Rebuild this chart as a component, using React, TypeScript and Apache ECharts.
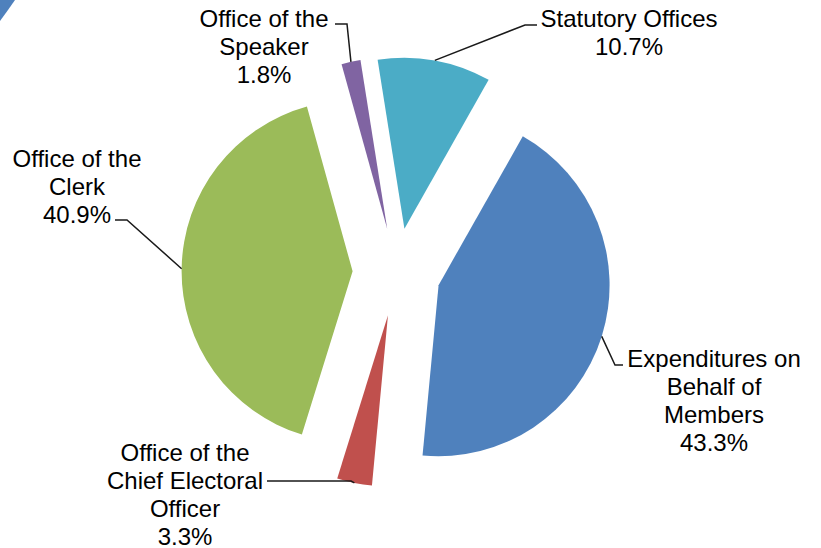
import React, { useEffect, useRef } from "react";
import * as echarts from "echarts";

// ---- data ----
const categories: string[] = [
  "Expenditures on Behalf of Members",
  "Office of the Chief Electoral Officer",
  "Office of the Clerk",
  "Office of the Speaker",
  "Statutory Offices",
];
const labelTexts: string[] = [
  "Expenditures on\nBehalf of\nMembers",
  "Office of the\nChief Electoral\nOfficer",
  "Office of the\nClerk",
  "Office of the\nSpeaker",
  "Statutory Offices",
];
const values: number[] = [43.3, 3.3, 40.9, 1.8, 10.7];
const colors: string[] = ["#4F81BD", "#C0504D", "#9BBB59", "#8064A2", "#4BACC6"];

// ---- label layout (positions of label blocks and leader-line elbows) ----
const labelLayouts = [
  { x: 714, y: 344, elbow: [615, 365], end: [623, 365] },
  { x: 185, y: 438, elbow: [351, 481], end: [267, 481] },
  { x: 77, y: 144, elbow: [127, 220], end: [115, 220] },
  { x: 264, y: 4, elbow: [347, 24], end: [335, 24] },
  { x: 629, y: 4, elbow: [525, 25], end: [537, 25] },
];

const CENTER = [396.6, 272];
const RADIUS = 171;
const EXPLODE = 44;
const START = 60.5;

export default function App() {
  const ref = useRef<HTMLDivElement>(null);
  useEffect(() => {
    if (!ref.current) return;
    const chart = echarts.init(ref.current, undefined, { renderer: "svg" });
    chart.setOption({
      animation: false,
      backgroundColor: "#ffffff",
      graphic: [
        {
          type: "polygon",
          shape: { points: [[0, 0], [15, 0], [8, 10], [0, 21]] },
          style: { fill: "#4F81BD" },
          silent: true,
        },
      ],
      series: [
        {
          type: "pie",
          center: CENTER,
          radius: RADIUS,
          startAngle: START,
          clockwise: true,
          selectedMode: "multiple",
          selectedOffset: EXPLODE,
          avoidLabelOverlap: false,
          emphasis: { disabled: true },
          silent: true,
          label: { show: false },
          labelLine: { show: false },
          data: categories.map((name, i) => ({
            name,
            value: values[i],
            selected: true,
            itemStyle: { color: colors[i] },
          })),
        },
        {
          // transparent companion pie whose outer arc passes through the
          // exploded slices' outer arcs; carries the labels and leader lines
          type: "pie",
          center: CENTER,
          radius: RADIUS + EXPLODE,
          startAngle: START,
          clockwise: true,
          avoidLabelOverlap: false,
          emphasis: { disabled: true },
          silent: true,
          z: 3,
          data: categories.map((name, i) => ({
            name,
            value: values[i],
            itemStyle: { color: "rgba(0,0,0,0)" },
          })),
          label: {
            show: true,
            position: "outside",
            formatter: (p: any) =>
              `${labelTexts[p.dataIndex]}\n${values[p.dataIndex].toFixed(1)}%`,
            fontFamily: "Liberation Sans, Arial, sans-serif",
            fontSize: 24,
            lineHeight: 28,
            color: "#000000",
            align: "center",
          },
          labelLine: {
            show: true,
            lineStyle: { color: "#1a1a1a", width: 1.5 },
          },
          labelLayout: (params: any) => {
            const L = labelLayouts[params.dataIndex];
            const p0 =
              params.labelLinePoints && params.labelLinePoints[0]
                ? params.labelLinePoints[0]
                : L.elbow;
            return {
              x: L.x,
              y: L.y,
              align: "center",
              verticalAlign: "top",
              labelLinePoints: [p0, L.elbow, L.end],
            };
          },
        },
      ],
    });
    return () => chart.dispose();
  }, []);
  return (
    <div
      ref={ref}
      style={{ position: "fixed", left: 0, top: 0, width: 821, height: 548 }}
    />
  );
}
